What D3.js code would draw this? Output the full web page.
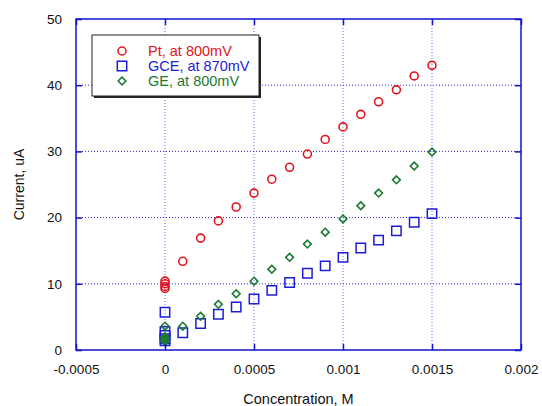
<!DOCTYPE html>
<html>
<head>
<meta charset="utf-8">
<script src="https://cdn.jsdelivr.net/npm/d3@7"></script>
<style>
  body { margin: 0; background: #fff; }
  svg { display: block; font-family: "Liberation Sans", Arial, sans-serif; }
</style>
</head>
<body>
<svg id="chart"></svg>
<script>
const width = 542;
const height = 406;

// data (several points stacked at zero concentration)
const ptConc = [0, 0, 0, 0, 0.0001, 0.0002, 0.0003, 0.0004, 0.0005, 0.0006, 0.0007, 0.0008,
  0.0009, 0.001, 0.0011, 0.0012, 0.0013, 0.0014, 0.0015];
const ptCurrent = [10.4, 10.0, 9.6, 9.3, 13.4, 16.9, 19.5, 21.6, 23.7, 25.8, 27.6, 29.6,
  31.8, 33.7, 35.6, 37.5, 39.3, 41.4, 43.0];

const gceConc = [0, 0, 0, 0, 0, 0.0001, 0.0002, 0.0003, 0.0004, 0.0005, 0.0006, 0.0007, 0.0008,
  0.0009, 0.001, 0.0011, 0.0012, 0.0013, 0.0014, 0.0015];
const gceCurrent = [5.7, 2.8, 2.2, 1.7, 1.4, 2.6, 4.0, 5.4, 6.5, 7.7, 9.0, 10.2, 11.6,
  12.7, 14.0, 15.4, 16.6, 18.0, 19.3, 20.6];

const geConc = [0, 0, 0, 0, 0, 0, 0.0001, 0.0002, 0.0003, 0.0004, 0.0005, 0.0006, 0.0007, 0.0008,
  0.0009, 0.001, 0.0011, 0.0012, 0.0013, 0.0014, 0.0015];
const geCurrent = [3.6, 2.0, 1.8, 1.6, 1.5, 1.3, 3.6, 5.1, 6.9, 8.5, 10.4, 12.2, 14.0, 16.0,
  17.8, 19.8, 21.8, 23.7, 25.7, 27.8, 29.9];

const xTicks = [-0.0005, 0, 0.0005, 0.001, 0.0015, 0.002];
const xTickLabels = ["-0.0005", "0", "0.0005", "0.001", "0.0015", "0.002"];
const yTicks = [0, 10, 20, 30, 40, 50];

const seriesNames = ["Pt, at 800mV", "GCE, at 870mV", "GE, at 800mV"];

const margin = { left: 76, right: 21, top: 19, bottom: 56 };
const frameColor = "#1212d0";

const svg = d3.select("#chart")
  .attr("width", width)
  .attr("height", height);

const x = d3.scaleLinear()
  .domain([-0.0005, 0.002])
  .range([margin.left, width - margin.right]);

const y = d3.scaleLinear()
  .domain([0, 50])
  .range([height - margin.bottom, margin.top]);

const plot = svg.append("g");

// dotted grid
plot.selectAll(".vgrid")
  .data(xTicks.slice(1, -1))
  .join("line")
  .attr("x1", d => x(d)).attr("x2", d => x(d))
  .attr("y1", y(50)).attr("y2", y(0))
  .attr("stroke", "#6a6aee")
  .attr("stroke-width", 1)
  .attr("stroke-dasharray", "1,2");

plot.selectAll(".hgrid")
  .data(yTicks.slice(1, -1))
  .join("line")
  .attr("x1", x(-0.0005)).attr("x2", x(0.002))
  .attr("y1", d => y(d)).attr("y2", d => y(d))
  .attr("stroke", "#2a2ad8")
  .attr("stroke-width", 1)
  .attr("stroke-dasharray", "1,2");

// axes with inward ticks
const tickLen = 6;
svg.append("g")
  .attr("transform", `translate(0,${y(0)})`)
  .call(d3.axisBottom(x).tickValues(xTicks).tickSizeInner(-tickLen).tickSizeOuter(0)
    .tickFormat((d, i) => xTickLabels[i]).tickPadding(14))
  .call(g => g.select(".domain").remove());

svg.append("g")
  .attr("transform", `translate(0,${y(50)})`)
  .call(d3.axisTop(x).tickValues(xTicks).tickSizeInner(-tickLen).tickSizeOuter(0).tickFormat(""))
  .call(g => g.select(".domain").remove());

svg.append("g")
  .attr("transform", `translate(${x(-0.0005)},0)`)
  .call(d3.axisLeft(y).tickValues(yTicks).tickSizeInner(-tickLen).tickSizeOuter(0).tickPadding(14))
  .call(g => g.select(".domain").remove());

svg.append("g")
  .attr("transform", `translate(${x(0.002)},0)`)
  .call(d3.axisRight(y).tickValues(yTicks).tickSizeInner(-tickLen).tickSizeOuter(0).tickFormat(""))
  .call(g => g.select(".domain").remove());

svg.selectAll(".tick line").attr("stroke", frameColor).attr("stroke-width", 1.5);
svg.selectAll(".tick text")
  .attr("fill", "#111")
  .style("font-size", "13.5px")
  .style("font-family", "'Liberation Sans', Arial, sans-serif");

// frame
svg.append("rect")
  .attr("x", x(-0.0005)).attr("y", y(50))
  .attr("width", x(0.002) - x(-0.0005))
  .attr("height", y(0) - y(50))
  .attr("fill", "none")
  .attr("stroke", frameColor)
  .attr("stroke-width", 1.5);

// axis titles
svg.append("text")
  .attr("x", (x(-0.0005) + x(0.002)) / 2)
  .attr("y", 404)
  .attr("text-anchor", "middle")
  .attr("font-size", 14.5)
  .attr("fill", "#111")
  .text("Concentration, M");

svg.append("text")
  .attr("transform", `translate(24,${(y(0) + y(50)) / 2}) rotate(-90)`)
  .attr("text-anchor", "middle")
  .attr("font-size", 14)
  .attr("fill", "#111")
  .text("Current, uA");

// markers
const red = "#e2141c", blue = "#1c1cd8", green = "#1b7a32";
const circleSym = d3.symbol().type(d3.symbolCircle).size(50);
const squareSym = d3.symbol().type(d3.symbolSquare).size(88);
// d3's diamond is tall, the reference uses a square turned 45 degrees
const squareDiamond = {
  draw(ctx, size) {
    const r = Math.sqrt(size / 2);
    ctx.moveTo(0, -r); ctx.lineTo(r, 0); ctx.lineTo(0, r); ctx.lineTo(-r, 0); ctx.closePath();
  }
};
const diamondSym = d3.symbol().type(squareDiamond).size(30);

function drawSeries(conc, current, sym, color, sw) {
  plot.append("g")
    .selectAll("path")
    .data(conc.map((c, i) => ({ c, v: current[i] })))
    .join("path")
    .attr("d", sym)
    .attr("transform", d => `translate(${x(d.c)},${y(d.v)})`)
    .attr("fill", "none")
    .attr("stroke", color)
    .attr("stroke-width", sw);
}

drawSeries(ptConc, ptCurrent, circleSym, red, 1.6);
drawSeries(gceConc, gceCurrent, squareSym, blue, 1.5);
drawSeries(geConc, geCurrent, diamondSym, green, 1.6);

// legend
const legend = svg.append("g").attr("transform", "translate(92,35)");
legend.append("rect")
  .attr("x", 2).attr("y", 2).attr("width", 167).attr("height", 61)
  .attr("fill", "#222");
legend.append("rect")
  .attr("x", 0).attr("y", 0).attr("width", 167).attr("height", 61)
  .attr("fill", "#fff").attr("stroke", "#222").attr("stroke-width", 1);

const legendSyms = [circleSym, squareSym, diamondSym];
const legendColors = [red, blue, green];
seriesNames.forEach((name, i) => {
  const yy = 16 + i * 15;
  legend.append("path")
    .attr("d", legendSyms[i])
    .attr("transform", `translate(30,${yy})`)
    .attr("fill", "none")
    .attr("stroke", legendColors[i])
    .attr("stroke-width", 1.5);
  legend.append("text")
    .attr("x", 56).attr("y", yy + 5)
    .attr("font-size", 14.5)
    .attr("fill", legendColors[i])
    .text(name);
});
</script>
</body>
</html>
